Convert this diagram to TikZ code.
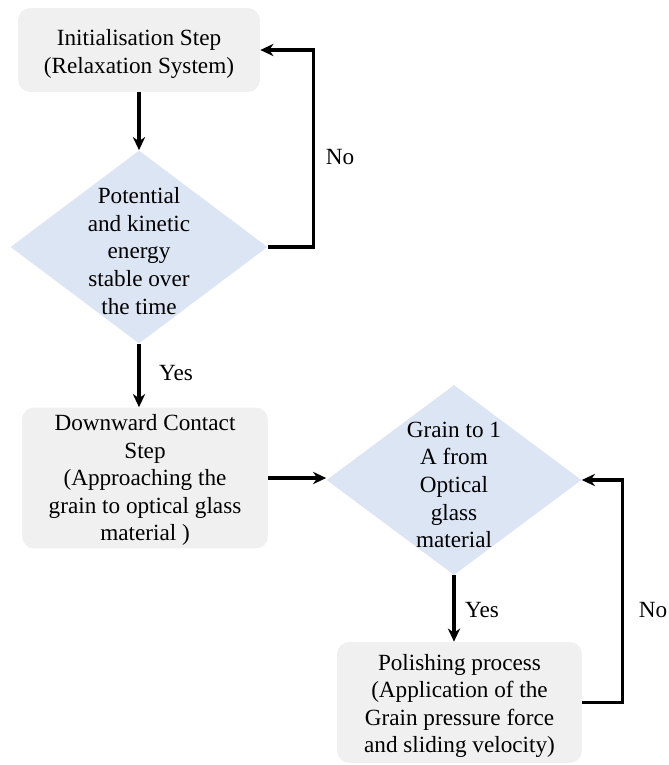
\documentclass[tikz,border=0pt]{standalone}
\usepackage{fontspec}
\setmainfont{Liberation Serif}
\usetikzlibrary{shapes.geometric,arrows.meta}

\begin{document}
\begin{tikzpicture}[x=0.02cm,y=-0.02cm,>={Stealth[length=7.5pt,width=7pt]},
 every node/.style={font=\rmfamily\fontsize{13.2}{15.7}\selectfont},
 stepbox/.style={fill=black!6,rounded corners=7pt,inner sep=0pt},
 test/.style={diamond,fill=test,inner sep=0pt},
 steptxt/.style={align=center,inner sep=0pt},
 flow/.style={line width=1.9pt,->}]
\definecolor{test}{RGB}{219,229,243}
\useasboundingbox (0,0) rectangle (669,765);
\node[stepbox,minimum width=4.84cm,minimum height=1.68cm] (init) at (139,50) {};
\node[steptxt,font=\rmfamily\fontsize{13.2}{16.4}\selectfont] (inittxt) at (139,54)
 {Initialisation Step\\(Relaxation System)};
\node[test,minimum width=5.14cm,minimum height=3.86cm] (stable) at (139,247) {};
\node[steptxt] (stabletxt) at (139,251)
 {Potential\\and kinetic\\energy\\stable over\\the time};
\node[stepbox,minimum width=4.92cm,minimum height=2.82cm] (contact) at (145,478) {};
\node[steptxt] (contacttxt) at (145,480)
 {Downward Contact\\Step\\(Approaching the\\grain to optical glass\\material )};
\node[test,minimum width=5.1cm,minimum height=3.8cm] (reach) at (454,480) {};
\node[steptxt] (reachtxt) at (454,485)
 {Grain to 1\\A from\\Optical\\glass\\material};
\node[stepbox,minimum width=4.9cm,minimum height=2.42cm] (polish) at (459.5,702.5) {};
\node[steptxt] (polishtxt) at (459.5,706)
 {Polishing process\\(Application of the\\Grain pressure force\\and sliding velocity)};
\draw[flow] (init.south) -- (stable.north);
\draw[flow] (stable.east) -- ++(46,0) |- (init.east);
\node (no1) at (340,157) {No};
\draw[flow] (stable.south) -- (stable.south |- contact.north);
\node (yes1) at (176,373) {Yes};
\draw[flow] (contact.east) -- (contact.east -| reach.west);
\draw[flow] (reach.south) -- (reach.south |- polish.north);
\node (yes2) at (482,610) {Yes};
\draw[flow] (polish.east) -- ++(40,0) |- (reach.east);
\node (no2) at (653,610) {No};
\end{tikzpicture}
\end{document}
